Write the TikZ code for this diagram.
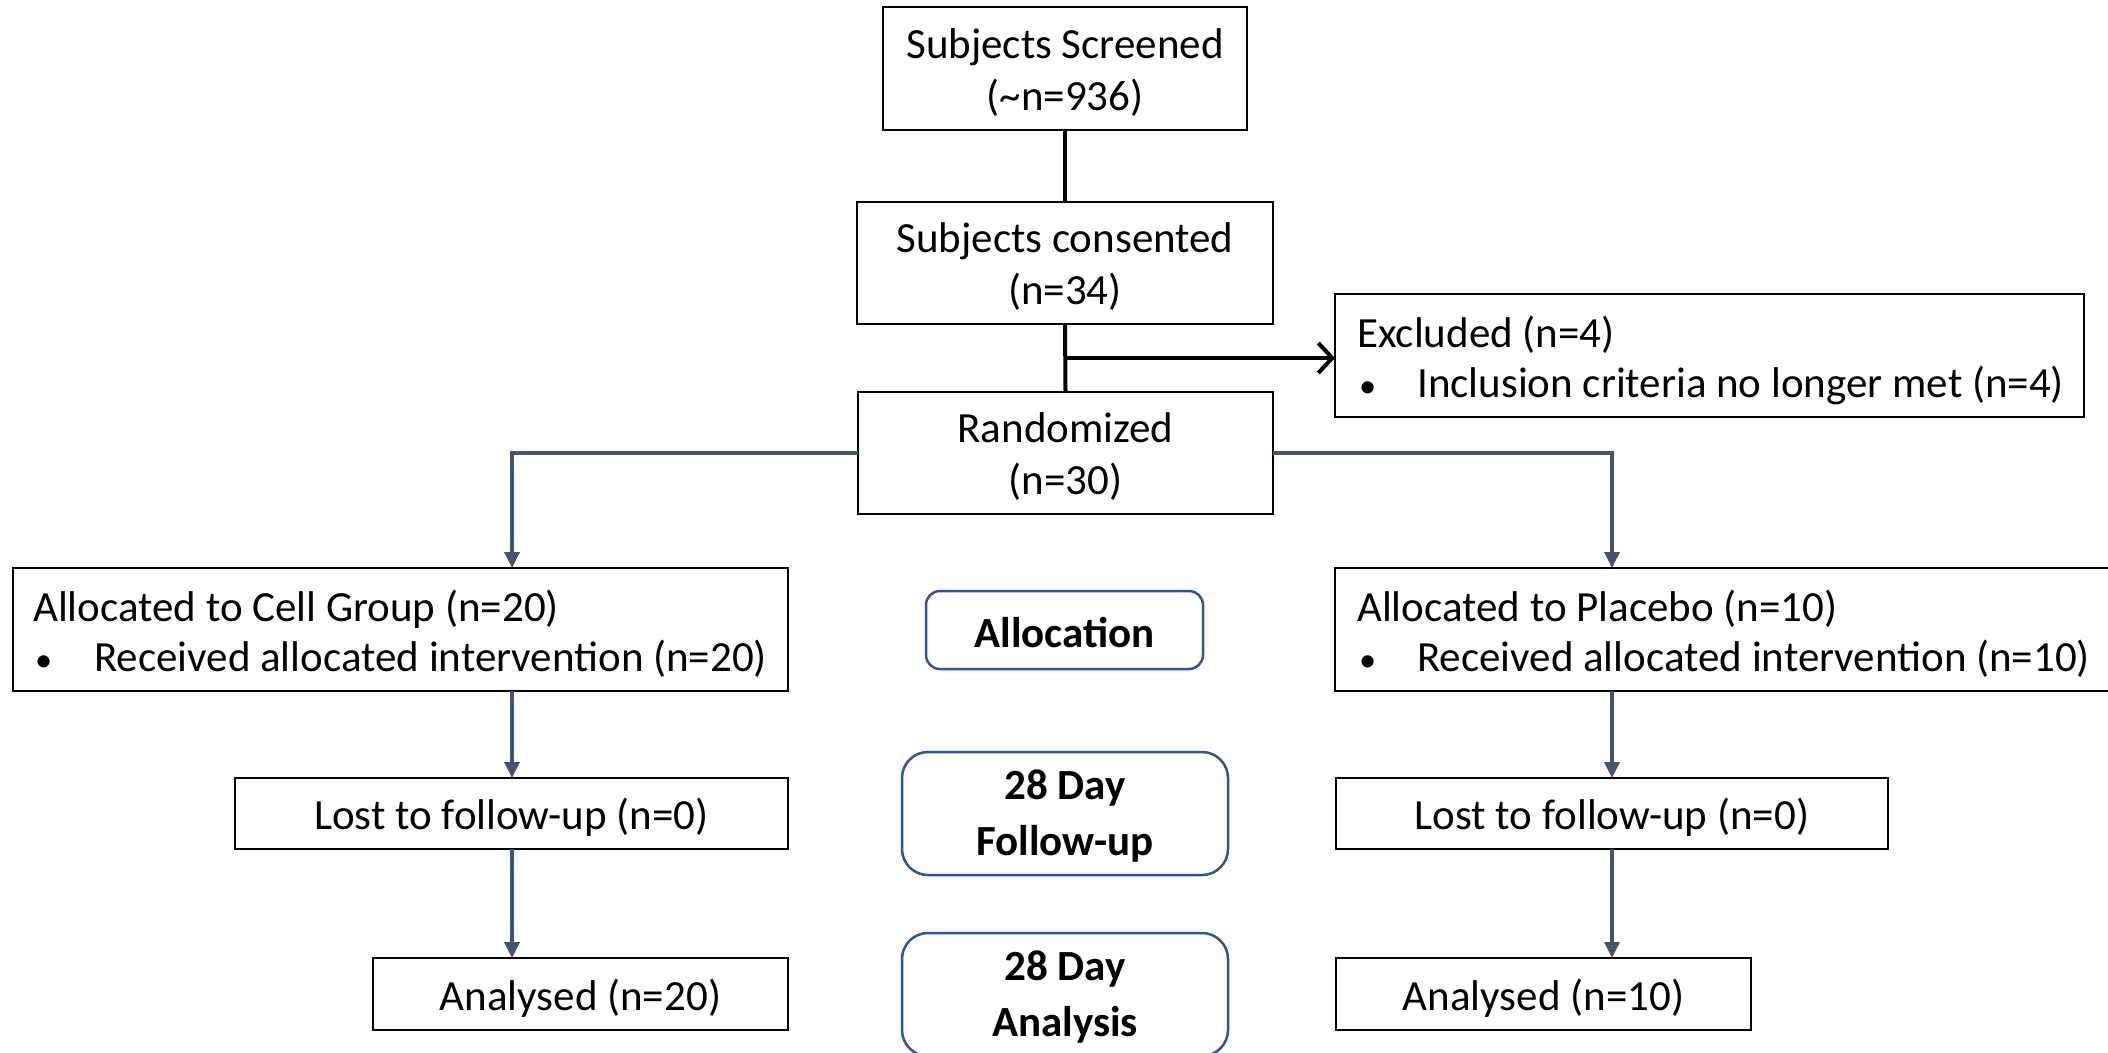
\documentclass[tikz,border=0pt]{standalone}
\usepackage{fontspec}
\setmainfont{Carlito}
\usetikzlibrary{arrows.meta,positioning,calc}
\definecolor{slate}{HTML}{44546A}
\definecolor{phase}{HTML}{2F5597}
\tikzset{
  box/.style={draw=black,line width=2pt,inner sep=0pt,outer sep=0pt,fill=white,anchor=north west},
  phasebox/.style={draw=phase,line width=2.5pt,inner sep=0pt,outer sep=0pt,fill=white,anchor=north west},
  boxtext/.style={inner sep=0pt,align=center,yshift=-4pt,font=\fontsize{43}{52}\selectfont},
  phasetext/.style={inner sep=0pt,align=center,yshift=-3pt,font=\bfseries\fontsize{43}{56}\selectfont},
  blk/.style={draw=black,line width=4pt},
  sl/.style={draw=slate,line width=3.5pt},
  slarrow/.style={sl,-{Triangle[length=16pt,width=15pt]}},
  txt/.style={anchor=base west,inner sep=0pt,font=\fontsize{43}{52}\selectfont},
}
\newcommand{\bul}{\scalebox{0.8}{\textbullet}}
\begin{document}
\begin{tikzpicture}[x=1pt,y=-1pt]
\useasboundingbox[fill=white] (0,0) rectangle (2108,1052);
% plain boxes
\node[box,minimum width=364pt,minimum height=123pt] (scr) at (883,7) {};
\node[boxtext] (scrT) at (scr.center) {Subjects Screened\\(\textasciitilde n=936)};
\node[box,minimum width=416pt,minimum height=122pt] (con) at (857,202) {};
\node[boxtext] (conT) at (con.center) {Subjects consented\\(n=34)};
\node[box,minimum width=415pt,minimum height=122pt] (ran) at (858,392) {};
\node[boxtext] (ranT) at (ran.center) {Randomized\\(n=30)};
\node[box,minimum width=749pt,minimum height=123pt] (exc) at (1335,294) {};
\node[box,minimum width=775pt,minimum height=123pt] (cell) at (13,568) {};
\node[box,minimum width=780pt,minimum height=123pt] (pla) at (1335,568) {};
\node[box,minimum width=553pt,minimum height=71pt] (lostL) at (235,778) {};
\node[boxtext] (lostLT) at (lostL.center) {Lost to follow-up (n=0)};
\node[box,minimum width=552pt,minimum height=71pt] (lostR) at (1336,778) {};
\node[boxtext] (lostRT) at (lostR.center) {Lost to follow-up (n=0)};
\node[box,minimum width=415pt,minimum height=72pt] (anaL) at (373,958) {};
\node[boxtext] (anaLT) at (anaL.center) {Analysed (n=20)};
\node[box,minimum width=415pt,minimum height=72pt] (anaR) at (1336,958) {};
\node[boxtext] (anaRT) at (anaR.center) {Analysed (n=10)};
% texts inside bullet boxes
\node[txt] (excT1) at (1357,347) {Excluded (n=4)};
\node[txt] (excB) at (1359,397) {\bul};
\node[txt] (excT2) at (1417,397) {Inclusion criteria no longer met (n=4)};
\node[txt] (cellT1) at (33,621) {Allocated to Cell Group (n=20)};
\node[txt] (cellB) at (35,671) {\bul};
\node[txt] (cellT2) at (94,671) {Received allocated intervention (n=20)};
\node[txt] (plaT1) at (1357,621) {Allocated to Placebo (n=10)};
\node[txt] (plaB) at (1359,671) {\bul};
\node[txt] (plaT2) at (1417,671) {Received allocated intervention (n=10)};
% phase boxes
\node[phasebox,rounded corners=14pt,minimum width=277pt,minimum height=78pt] (alloc) at (926,591) {};
\node[phasetext] (allocT) at (alloc.center) {Allocation};
\node[phasebox,rounded corners=26pt,minimum width=326pt,minimum height=123pt] (fup) at (902,752) {};
\node[phasetext] (fupT) at (fup.center) {28 Day\\Follow-up};
\node[phasebox,rounded corners=26pt,minimum width=326pt,minimum height=123pt] (ana) at (902,933) {};
\node[phasetext] (anaT) at (ana.center) {28 Day\\Analysis};
% connectors
\draw[blk] (scr.south) -- (con.north);
\draw[blk] (con.south) -- (ran.north);
\coordinate (brk) at ($(con.south)!0.5!(ran.north)$);
\draw[blk,-{Straight Barb[length=14pt,width=30pt,line width=4pt]}] (brk) -- (brk -| exc.west);
\coordinate (lx) at (512,453);
\coordinate (rx) at (1612,453);
\draw[slarrow] (ran.west) -- (ran.west -| lx) -- (lx |- cell.north);
\draw[slarrow] (ran.east) -- (ran.east -| rx) -- (rx |- pla.north);
\draw[slarrow] (lx |- cell.south) -- (lx |- lostL.north);
\draw[slarrow] (lx |- lostL.south) -- (lx |- anaL.north);
\draw[slarrow] (rx |- pla.south) -- (rx |- lostR.north);
\draw[slarrow] (rx |- lostR.south) -- (rx |- anaR.north);
\end{tikzpicture}
\end{document}
